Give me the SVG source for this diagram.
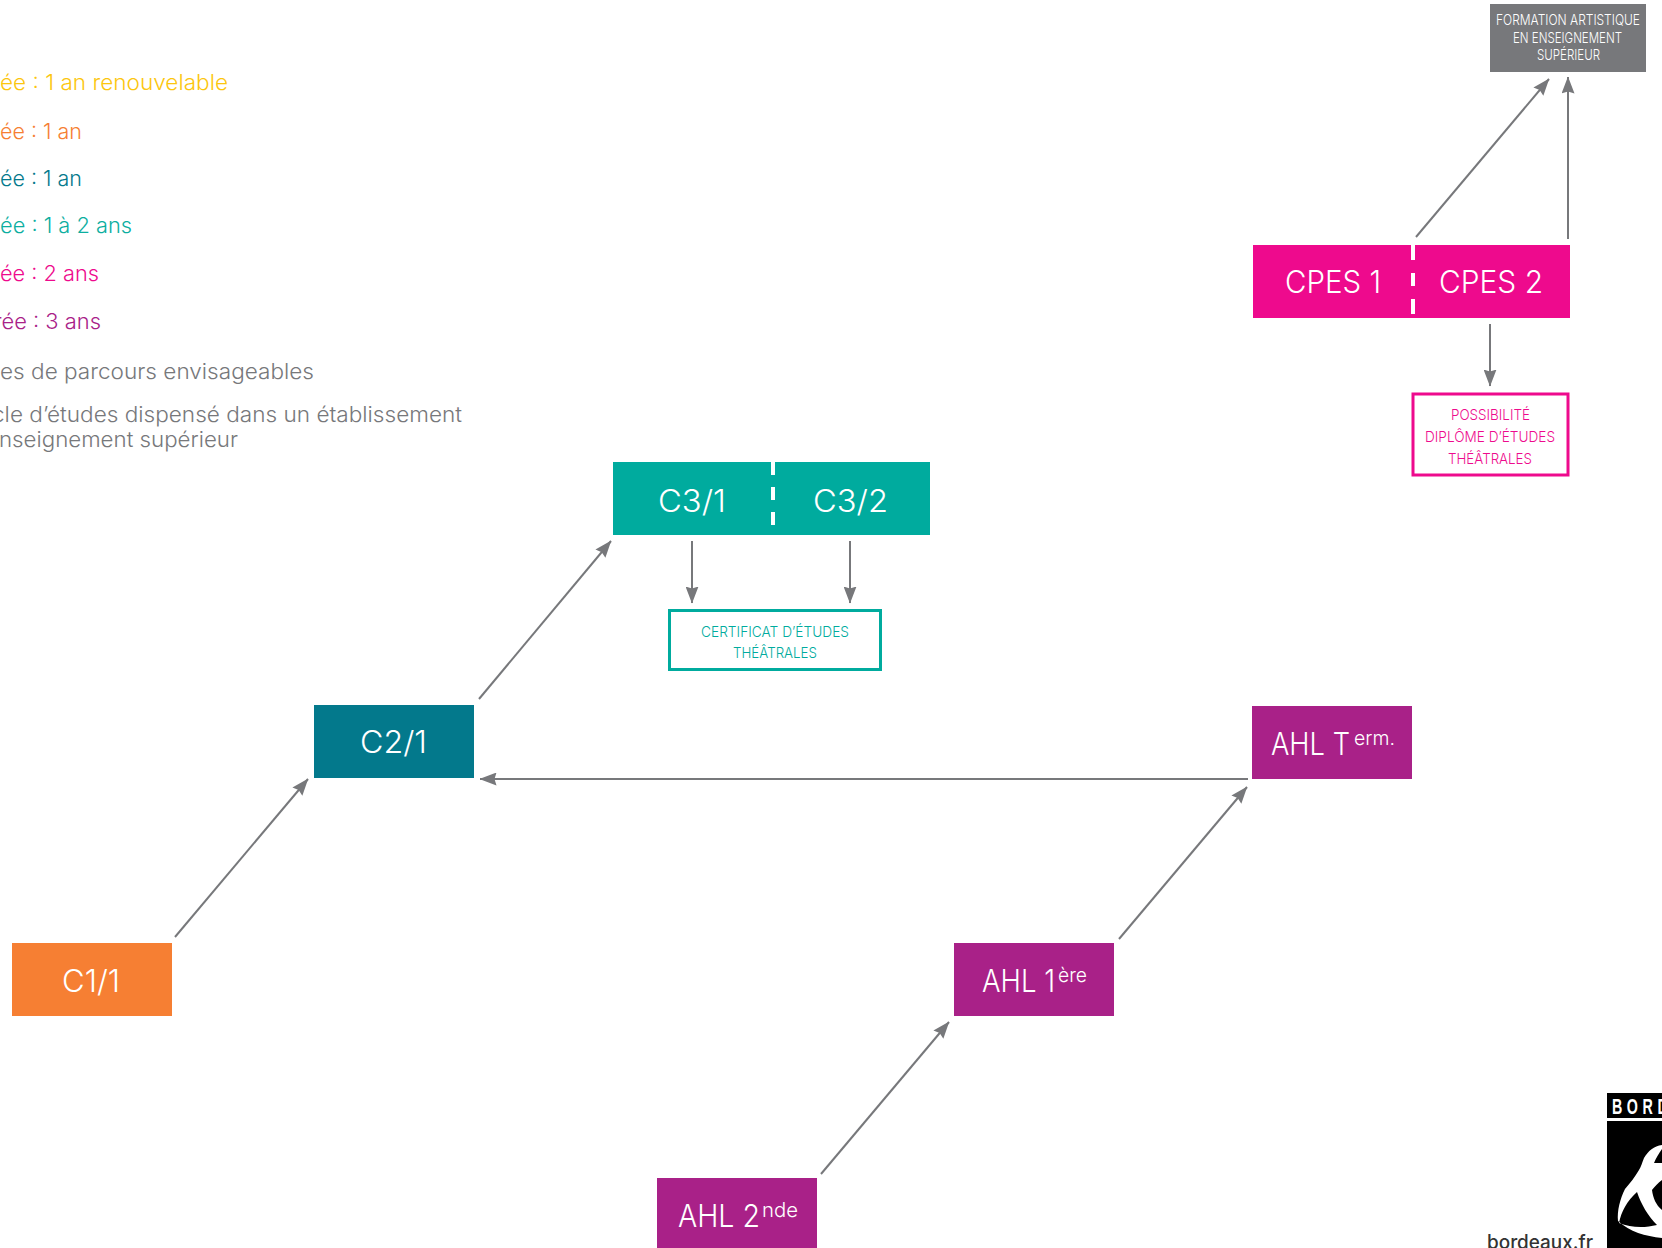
<svg xmlns="http://www.w3.org/2000/svg" width="1662" height="1248" viewBox="0 0 1662 1248">
<style>
text{font-family:"Inter","Liberation Sans",sans-serif}
.leg{font-size:21.5px;font-weight:300}
.g{fill:#77787b}
.big{font-size:30.5px;fill:#fff;font-weight:300}
.ahl{font-size:31px;fill:#fff;font-weight:300}
.sup{font-size:20px;fill:#fff;font-weight:300}
.sm{font-size:14.5px;font-weight:300}
.arr{stroke:#77787b;stroke-width:2;fill:none;marker-end:url(#a)}
</style>
<defs>
<marker id="a" viewBox="0 0 17 13" refX="16.5" refY="6.5" markerWidth="17" markerHeight="13" markerUnits="userSpaceOnUse" orient="auto"><path d="M0 0L17 6.5L0 13L2 6.5Z" fill="#77787b"/></marker>
</defs>
<rect width="1662" height="1248" fill="#fff"/>
<g id="legend">
<text class="leg" x="0" y="90" fill="#fcc60e" textLength="228" lengthAdjust="spacingAndGlyphs">ée : 1 an renouvelable</text>
<text class="leg" x="0" y="139" fill="#f67f33" textLength="82" lengthAdjust="spacingAndGlyphs">ée : 1 an</text>
<text class="leg" x="0" y="186" fill="#03798c" textLength="82" lengthAdjust="spacingAndGlyphs">ée : 1 an</text>
<text class="leg" x="0" y="233" fill="#0cae9f" textLength="132" lengthAdjust="spacingAndGlyphs">ée : 1 à 2 ans</text>
<text class="leg" x="0" y="281" fill="#ee0a8d" textLength="99" lengthAdjust="spacingAndGlyphs">ée : 2 ans</text>
<text class="leg" x="-6" y="329" fill="#a92188" textLength="107" lengthAdjust="spacingAndGlyphs">rée : 3 ans</text>
<text class="leg g" x="0" y="379" textLength="314" lengthAdjust="spacingAndGlyphs">es de parcours envisageables</text>
<text class="leg g" x="-8" y="422" textLength="470" lengthAdjust="spacingAndGlyphs">cle d’études dispensé dans un établissement</text>
<text class="leg g" x="-1" y="447" textLength="239" lengthAdjust="spacingAndGlyphs">nseignement supérieur</text>
</g>
<g id="connectors">
<path class="arr" d="M175 937L308 779"/>
<path class="arr" d="M479 699L611 541"/>
<path class="arr" d="M821 1174L949 1022"/>
<path class="arr" d="M1119 939L1247 787"/>
<path class="arr" d="M1248 779H480"/>
<path class="arr" d="M1416 237L1549 79"/>
<path class="arr" d="M1568 239V77"/>
<path class="arr" d="M1490 324V386"/>
<path class="arr" d="M692 541V603"/>
<path class="arr" d="M850 541V603"/>
</g>
<g id="c11"><rect x="12" y="943" width="160" height="73" fill="#f67f33"/><text class="big" x="62" y="992" textLength="58" lengthAdjust="spacingAndGlyphs">C1/1</text></g>
<g id="c21"><rect x="314" y="705" width="160" height="73" fill="#03798c"/><text class="big" x="360" y="753" textLength="67" lengthAdjust="spacingAndGlyphs">C2/1</text></g>
<g id="c3"><rect x="613" y="462" width="317" height="73" fill="#00ab9e"/>
<path d="M773 462V535" stroke="#fff" stroke-width="4" stroke-dasharray="13 12 13 12 13"/>
<text class="big" x="658" y="512" textLength="68" lengthAdjust="spacingAndGlyphs">C3/1</text><text class="big" x="813" y="512" textLength="75" lengthAdjust="spacingAndGlyphs">C3/2</text></g>
<g id="cpes"><rect x="1253" y="245" width="317" height="73" fill="#ee0a8d"/>
<path d="M1413 245V318" stroke="#fff" stroke-width="4" stroke-dasharray="15 13 13 13 15"/>
<text class="big" x="1285" y="293" textLength="96" lengthAdjust="spacingAndGlyphs">CPES 1</text><text class="big" x="1439" y="293" textLength="104" lengthAdjust="spacingAndGlyphs">CPES 2</text></g>
<g id="ahl2"><rect x="657" y="1178" width="160" height="70" fill="#a92188"/><text class="ahl" x="678" y="1227" textLength="82" lengthAdjust="spacingAndGlyphs">AHL 2</text><text class="sup" x="762" y="1217" textLength="36" lengthAdjust="spacingAndGlyphs">nde</text></g>
<g id="ahl1"><rect x="954" y="943" width="160" height="73" fill="#a92188"/><text class="ahl" x="982" y="992" textLength="73" lengthAdjust="spacingAndGlyphs">AHL 1</text><text class="sup" x="1058" y="982" textLength="29" lengthAdjust="spacingAndGlyphs">ère</text></g>
<g id="ahlt"><rect x="1252" y="706" width="160" height="73" fill="#a92188"/><text class="ahl" x="1271" y="755" textLength="79" lengthAdjust="spacingAndGlyphs">AHL T</text><text class="sup" x="1354" y="745" textLength="41" lengthAdjust="spacingAndGlyphs">erm.</text></g>
<g id="formation"><rect x="1490" y="4" width="156" height="68" fill="#77787b"/>
<text class="sm" fill="#fff" x="1496" y="25" textLength="144" lengthAdjust="spacingAndGlyphs">FORMATION ARTISTIQUE</text><text class="sm" fill="#fff" x="1513" y="43" textLength="109" lengthAdjust="spacingAndGlyphs">EN ENSEIGNEMENT</text><text class="sm" fill="#fff" x="1537" y="60" textLength="63" lengthAdjust="spacingAndGlyphs">SUPÉRIEUR</text></g>
<g id="possibilite"><rect x="1413" y="394" width="155" height="81" fill="#fff" stroke="#ee0a8d" stroke-width="3"/>
<text class="sm" fill="#ee0a8d" x="1451" y="420" textLength="79" lengthAdjust="spacingAndGlyphs">POSSIBILITÉ</text><text class="sm" fill="#ee0a8d" x="1425" y="442" textLength="130" lengthAdjust="spacingAndGlyphs">DIPLÔME D’ÉTUDES</text><text class="sm" fill="#ee0a8d" x="1448" y="464" textLength="84" lengthAdjust="spacingAndGlyphs">THÉÂTRALES</text></g>
<g id="certificat"><rect x="669.5" y="610.5" width="211" height="59" fill="#fff" stroke="#00ab9e" stroke-width="3"/>
<text class="sm" fill="#00ab9e" x="701" y="637" textLength="148" lengthAdjust="spacingAndGlyphs">CERTIFICAT D’ÉTUDES</text><text class="sm" fill="#00ab9e" x="733" y="658" textLength="84" lengthAdjust="spacingAndGlyphs">THÉÂTRALES</text></g>
<g id="logo"><rect x="1607" y="1093" width="55" height="155" fill="#000"/>
<rect x="1607" y="1118" width="55" height="3" fill="#fff"/>
<text transform="translate(1612 1114) scale(.65 1)" fill="#fff" font-size="22" font-weight="700" letter-spacing="7" style="font-family:'Liberation Sans',sans-serif">BORD</text>
<path fill-rule="evenodd" fill="#fff" d="M1662 1145C1654 1146 1648 1151 1644 1158C1642 1163 1641 1167 1639 1170C1635 1177 1630 1183 1625 1189C1620 1199 1617 1211 1618 1221C1630 1232 1645 1236 1662 1238V1210C1656 1205 1653 1198 1652 1190C1655 1186 1658 1183 1662 1180V1163H1654C1656 1158 1659 1153 1662 1149ZM1637 1192C1627 1201 1621 1212 1619 1223C1631 1228 1645 1228 1657 1225C1648 1216 1641 1204 1637 1192Z"/></g>
<g id="url"><text x="1487" y="1249" font-size="20" font-weight="500" fill="#333" textLength="106" lengthAdjust="spacingAndGlyphs">bordeaux.fr</text></g>
</svg>
